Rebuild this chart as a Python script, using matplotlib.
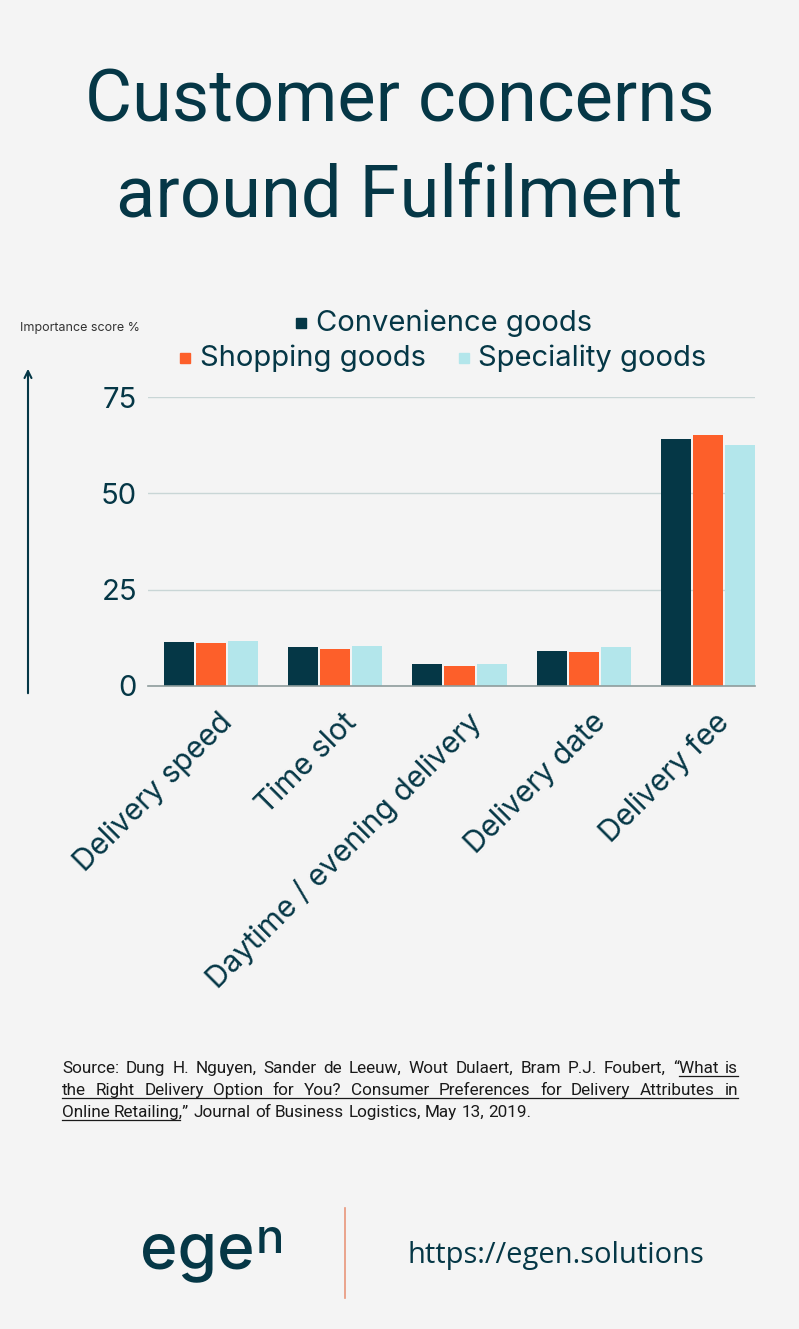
import matplotlib
matplotlib.use("Agg")

import matplotlib.pyplot as plt
import matplotlib.transforms as mtransforms
import numpy as np

# Data
categories = ["Delivery speed", "Time slot", "Daytime / evening delivery",
              "Delivery date", "Delivery fee"]
series_names = ["Convenience goods", "Shopping goods", "Speciality goods"]
convenience = [11.5, 10.2, 5.6, 9.1, 64.0]
shopping = [11.1, 9.6, 5.3, 8.9, 65.2]
speciality = [11.6, 10.3, 5.8, 10.1, 62.6]
yticks = [0, 25, 50, 75]

source_pre = "Source: Dung H. Nguyen, Sander de Leeuw, Wout Dulaert, Bram P.J. Foubert, \u201c"
source_link = "What is the Right Delivery Option for You? Consumer Preferences for Delivery Attributes in Online Retailing"
source_post = ",\u201d Journal of Business Logistics, May 13, 2019."
source_line_ends = ["What is", "Attributes in"]

DARK = "#053746"
ORANGE = "#fd5f2a"
CYAN = "#b3e6eb"
BG = "#f4f4f4"
colors = [DARK, ORANGE, CYAN]

W, H = 799, 1329
fig = plt.figure(figsize=(W / 100, H / 100), dpi=100, facecolor=BG)
renderer = fig.canvas.get_renderer()

# Title
fig.text(0.5, 1 - 102 / H, "Customer concerns", ha="center", va="center",
         fontsize=52, color=DARK, family="Roboto")
fig.text(0.5, 1 - 197 / H, "around Fulfilment", ha="center", va="center",
         fontsize=52, color=DARK, family="Roboto")

# Axes
ax = fig.add_axes([148 / W, 1 - 686 / H, (755 - 148) / W, (686 - 397) / H])
ax.set_facecolor(BG)
x = np.arange(len(categories))
width = 0.242
step = 0.258
for k, vals in enumerate([convenience, shopping, speciality]):
    ax.bar(x + (k - 1) * step, vals, width, color=colors[k], zorder=3)

ax.set_xlim(-0.507, 4.378)
ax.set_ylim(0, 75)
ax.set_yticks(yticks)
ax.set_yticklabels([str(t) for t in yticks], fontsize=21, color=DARK, family="Inter")
ax.tick_params(axis="y", length=0, pad=8)
ax.tick_params(axis="x", length=0)
ax.grid(axis="y", color="#c9d6d6", linewidth=1, zorder=0)
for s in ["top", "right", "left"]:
    ax.spines[s].set_visible(False)
ax.spines["bottom"].set_color("#8e9c9c")
ax.spines["bottom"].set_linewidth(1.2)
ax.spines["bottom"].set_zorder(4)

ax.set_xticks(x)
ax.set_xticklabels([])
trans = ax.get_xaxis_transform() + mtransforms.ScaledTranslation(17 / 100, -32 / 100, fig.dpi_scale_trans)
for i, lab in enumerate(categories):
    ax.text(x[i], 0, lab, transform=trans, rotation=45, rotation_mode="anchor",
            ha="right", va="center", fontsize=21.5, color=DARK, family="Inter")

# Legend (manual, centered rows)
leg_font = dict(fontsize=21, color=DARK, family="Inter", va="center")
fig.text(316 / W, 1 - 323 / H, "Convenience goods", ha="left", **leg_font)
fig.text(200 / W, 1 - 358 / H, "Shopping goods", ha="left", **leg_font)
fig.text(478 / W, 1 - 358 / H, "Speciality goods", ha="left", **leg_font)
fig.patches.append(plt.Rectangle((296 / W, 1 - 328 / H), 10 / W, 10 / H,
                                 transform=fig.transFigure, color=DARK))
fig.patches.append(plt.Rectangle((180 / W, 1 - 363 / H), 10 / W, 10 / H,
                                 transform=fig.transFigure, color=ORANGE))
fig.patches.append(plt.Rectangle((459 / W, 1 - 363 / H), 10 / W, 10 / H,
                                 transform=fig.transFigure, color=CYAN))

# Y axis label and arrow
fig.text(20 / W, 1 - 328 / H, "Importance score %", ha="left", va="center",
         fontsize=9, color="#333333", family="Inter")
fig.add_artist(matplotlib.patches.FancyArrowPatch(
    (28 / W, 1 - 696 / H), (28 / W, 1 - 366 / H), transform=fig.transFigure,
    arrowstyle="->,head_length=5,head_width=2.5", color=DARK, linewidth=1.5,
    mutation_scale=1))

# Source text, justified, with the article title underlined
src_font = dict(fontsize=12.3, color="#1a1a1a", family="Roboto")
full = source_pre + source_link + source_post
ul_start, ul_end = len(source_pre), len(source_pre) + len(source_link)


def measure(s):
    if not s:
        return 0.0
    t = fig.text(0, 0, s, **src_font)
    bb = t.get_window_extent(renderer)
    t.remove()
    return bb.width


# split into the reference's three lines, keeping character positions
cuts = [0]
for end in source_line_ends:
    cuts.append(full.index(end) + len(end) + 1)
cuts.append(len(full) + 1)
lines = []
for c0, c1 in zip(cuts[:-1], cuts[1:]):
    toks, pos = [], c0
    for w in full[c0:c1 - 1].split(" "):
        toks.append((w, pos, measure(w)))
        pos += len(w) + 1
    lines.append(toks)

left, right = 62, 738
line_ys = [1073, 1095, 1117]
space_w = measure("a a") - measure("aa")


def underline(seg, y):
    fig.add_artist(plt.Line2D([seg[0] / W, seg[1] / W], [1 - (y + 3) / H] * 2,
                              color="#1a1a1a", linewidth=0.9,
                              transform=fig.transFigure))


for li, line in enumerate(lines):
    y = line_ys[li]
    last = li == len(lines) - 1
    total = sum(t[2] for t in line)
    gap = space_w if last else (right - left - total) / (len(line) - 1)
    xp = left
    seg = None
    for w, p, ww in line:
        fig.text(xp / W, 1 - y / H, w, ha="left", va="baseline", **src_font)
        a = max(ul_start - p, 0)
        b = min(ul_end - p, len(w))
        if a < b:
            x0 = xp + measure(w[:a])
            x1 = xp + measure(w[:b])
            if seg is not None and a == 0:
                seg[1] = x1
            else:
                seg = [x0, x1]
            if b < len(w):
                underline(seg, y)
                seg = None
        xp += ww + gap
    if seg is not None:
        underline(seg, y)

# Footer
fig.text(140 / W, 1 - 1268 / H, "ege", ha="left", va="baseline", fontsize=46,
         color=DARK, family="Inter", fontweight="medium")
fig.text(256 / W, 1 - 1253 / H, "n", ha="left", va="baseline", fontsize=34,
         color=DARK, family="Inter", fontweight="medium")
fig.add_artist(plt.Line2D([345 / W, 345 / W], [1 - 1208 / H, 1 - 1298 / H],
                          color="#e8967a", linewidth=1.2, transform=fig.transFigure))
fig.text(556 / W, 1 - 1255 / H, "https://egen.solutions", ha="center", va="center",
         fontsize=21, color=DARK, family="Open Sans")

fig.savefig("out.png", dpi=100, facecolor=BG)
